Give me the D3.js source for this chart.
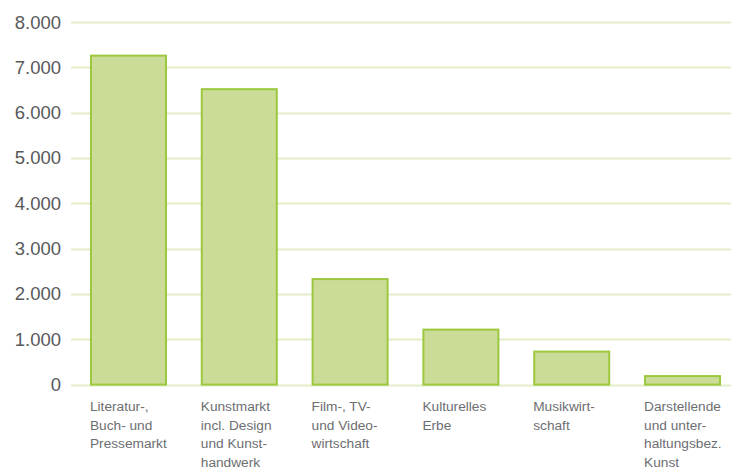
<!DOCTYPE html>
<html>
<head>
<meta charset="utf-8">
<script src="https://d3js.org/d3.v7.min.js"></script>
<style>
  body { margin: 0; background: #fff; }
  svg text { font-family: "Liberation Sans", Arial, sans-serif; }
</style>
</head>
<body>
<svg id="chart" width="731" height="469"></svg>
<script>
var categories = [
  ["Literatur-,", "Buch- und", "Pressemarkt"],
  ["Kunstmarkt", "incl. Design", "und Kunst-", "handwerk"],
  ["Film-, TV-", "und Video-", "wirtschaft"],
  ["Kulturelles", "Erbe"],
  ["Musikwirt-", "schaft"],
  ["Darstellende", "und unter-", "haltungsbez.", "Kunst"]
];
var values = [7280, 6540, 2350, 1235, 750, 210];
var yTicks = [0, 1000, 2000, 3000, 4000, 5000, 6000, 7000, 8000];

var svg = d3.select("#chart");

var y = d3.scaleLinear().domain([0, 8000]).range([384.6, 22]);
var x = d3.scaleBand()
  .domain(d3.range(values.length))
  .range([71, 740])
  .paddingInner(0.305)
  .paddingOuter(0.171);

var fmt = function(d) { return d3.format(",")(d).replace(/,/g, "."); };

// gridlines
svg.append("g").selectAll("line")
  .data(yTicks)
  .join("line")
  .attr("x1", 71).attr("x2", 731)
  .attr("y1", function(d) { return Math.round(y(d)) + 0.5; })
  .attr("y2", function(d) { return Math.round(y(d)) + 0.5; })
  .attr("stroke", "#e3edc8")
  .attr("stroke-width", 2);

// y labels
svg.append("g").selectAll("text")
  .data(yTicks)
  .join("text")
  .attr("x", 61)
  .attr("y", function(d) { return y(d) + 6.5; })
  .attr("text-anchor", "end")
  .attr("font-size", 18.5)
  .attr("fill", "#58595b")
  .text(fmt);

// bars
svg.append("g").selectAll("rect")
  .data(values)
  .join("rect")
  .attr("x", function(d, i) { return x(i) + 1; })
  .attr("y", function(d) { return y(d) + 1; })
  .attr("width", x.bandwidth() - 2)
  .attr("height", function(d) { return y(0) - y(d) - 1; })
  .attr("fill", "#cbdc98")
  .attr("stroke", "#9cc83e")
  .attr("stroke-width", 2);

// category labels
var lab = svg.append("g").selectAll("text")
  .data(categories)
  .join("text")
  .attr("x", function(d, i) { return x(i); })
  .attr("y", 411)
  .attr("font-size", 13.7)
  .attr("fill", "#6d6e71");

lab.selectAll("tspan")
  .data(function(d) { return d; })
  .join("tspan")
  .attr("x", function() { return d3.select(this.parentNode).attr("x"); })
  .attr("dy", function(d, i) { return i === 0 ? 0 : 18.7; })
  .text(function(d) { return d; });
</script>
</body>
</html>
